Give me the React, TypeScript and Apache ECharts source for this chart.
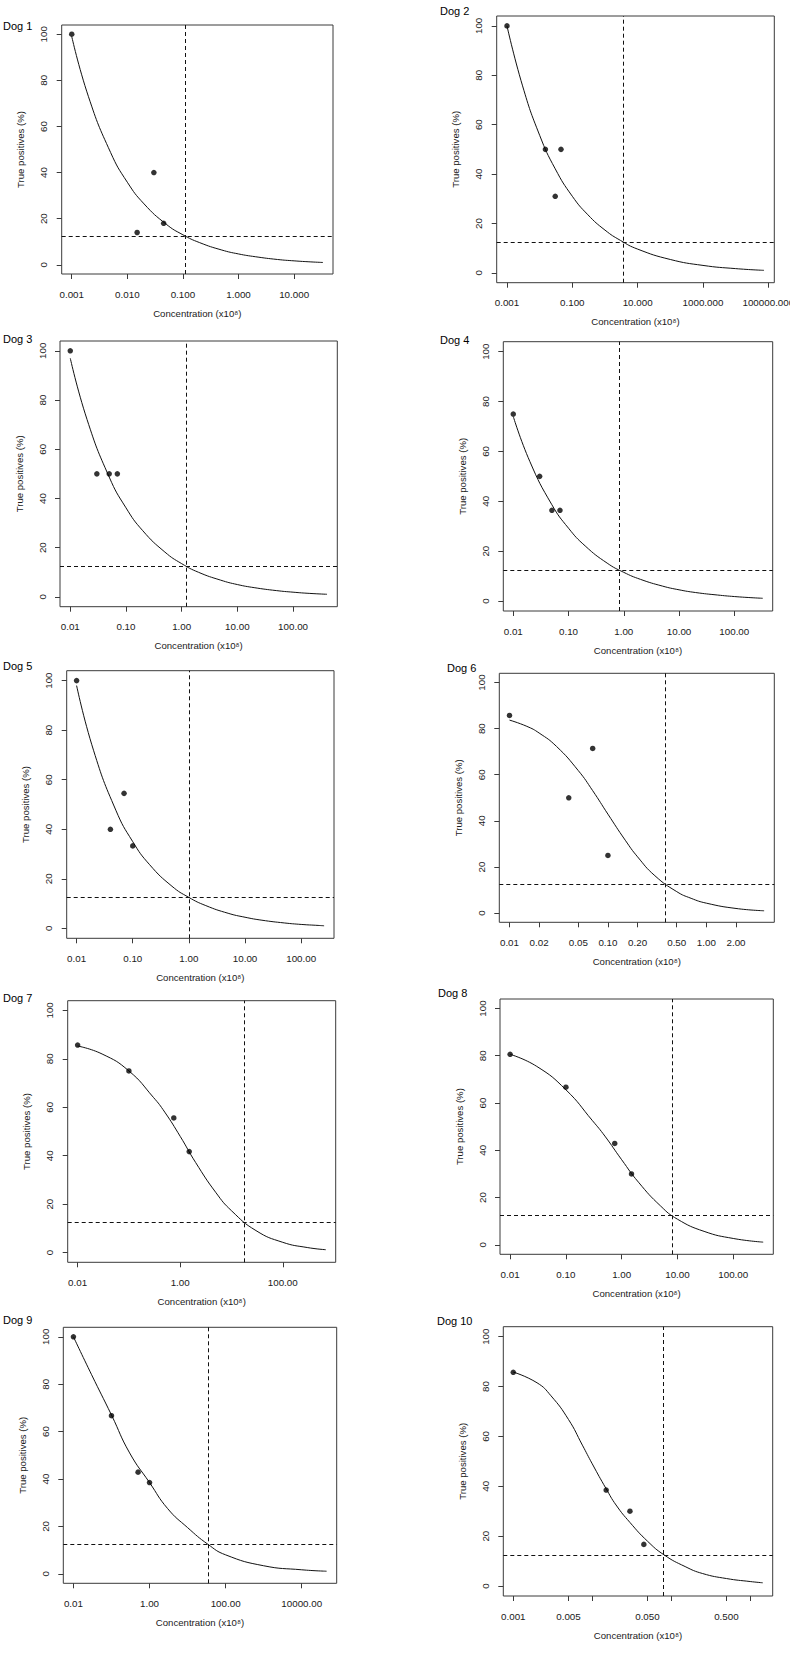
import React, { useEffect, useRef } from "react";
import * as echarts from "echarts";

// ---------- data ----------
const dogLabels = ["Dog 1", "Dog 2", "Dog 3", "Dog 4", "Dog 5", "Dog 6", "Dog 7", "Dog 8", "Dog 9", "Dog 10"];
const xAxisTitle = "Concentration (x10⁸)";
const yAxisTitle = "True positives (%)";
const yTicks = [0, 20, 40, 60, 80, 100];
const cutoffPercent = 12.5;
const cutoffConc = [0.109, 3.63, 1.2, 0.82, 1.0, 0.38, 17.7, 8.2, 34, 0.081];

const dog1PointX = [0.001, 0.015, 0.03, 0.045];
const dog1PointY = [100, 14, 40, 18];
const dog1CurveX = [0.001, 0.002, 0.005, 0.01, 0.02, 0.05, 0.1, 0.2, 0.5, 1, 2, 5, 10, 20, 33];
const dog1CurveY = [99, 72.9, 48.7, 35.8, 26.4, 17.6, 13.0, 9.6, 6.4, 4.7, 3.5, 2.3, 1.7, 1.25, 1.0];

const dog2PointX = [0.001, 0.015, 0.03, 0.045];
const dog2PointY = [100, 50, 31, 50];
const dog2CurveX = [0.001, 0.003, 0.01, 0.03, 0.1, 0.3, 1, 3, 10, 100, 1000, 10000, 73800];
const dog2CurveY = [100, 75.7, 55.7, 42.1, 31.0, 23.5, 17.3, 13.1, 9.6, 5.4, 3.0, 1.7, 1.0];

const dog3PointX = [0.01, 0.03, 0.05, 0.07];
const dog3PointY = [100, 50, 50, 50];
const dog3CurveX = [0.01, 0.02, 0.05, 0.1, 0.2, 0.5, 1, 2, 5, 10, 20, 50, 100, 200, 407];
const dog3CurveY = [97, 72.1, 48.7, 36.2, 26.9, 18.2, 13.5, 10.0, 6.8, 5.0, 3.75, 2.55, 1.9, 1.4, 1.05];

const dog4PointX = [0.01, 0.03, 0.05, 0.07];
const dog4PointY = [75, 50, 36.4, 36.4];
const dog4CurveX = [0.01, 0.02, 0.05, 0.1, 0.2, 0.5, 1, 2, 5, 10, 20, 50, 100, 200, 327];
const dog4CurveY = [74, 55.9, 38.6, 29.2, 22.1, 15.2, 11.5, 8.7, 6.0, 4.5, 3.4, 2.4, 1.8, 1.35, 1.1];

const dog5PointX = [0.01, 0.04, 0.07, 0.1];
const dog5PointY = [100, 40, 54.5, 33.3];
const dog5CurveX = [0.01, 0.02, 0.05, 0.1, 0.2, 0.5, 1, 2, 5, 10, 20, 50, 100, 200, 256];
const dog5CurveY = [98, 71.9, 47.7, 35.0, 25.7, 17.0, 12.5, 9.2, 6.1, 4.5, 3.3, 2.2, 1.6, 1.2, 1.05];

const dog6PointX = [0.01, 0.04, 0.07, 0.1];
const dog6PointY = [85.7, 50, 71.4, 25];
const dog6CurveX = [0.01, 0.015, 0.02, 0.03, 0.05, 0.07, 0.1, 0.15, 0.2, 0.3, 0.5, 0.7, 1, 2, 3.86];
const dog6CurveY = [83.7, 81.0, 78.1, 72.3, 61.8, 53.1, 42.9, 31.6, 24.4, 16.2, 9.3, 6.4, 4.3, 2.0, 1.0];

const dog7PointX = [0.01, 0.1, 0.75, 1.5];
const dog7PointY = [85.7, 75, 55.6, 41.7];
const dog7CurveX = [0.01, 0.03, 0.1, 0.3, 0.5, 1, 2, 5, 10, 30, 100, 300, 690];
const dog7CurveY = [85.3, 82.0, 75.0, 64.1, 58.0, 48.0, 37.2, 24.7, 17.3, 9.1, 4.25, 2.1, 1.2];

const dog8PointX = [0.01, 0.1, 0.75, 1.5];
const dog8PointY = [80.6, 66.7, 42.9, 30];
const dog8CurveX = [0.01, 0.03, 0.1, 0.3, 0.5, 1, 2, 5, 10, 30, 100, 344];
const dog8CurveY = [80.6, 75.5, 65.6, 52.5, 46, 36, 26.5, 16.4, 10.85, 5.7, 2.7, 1.15];

const dog9PointX = [0.01, 0.1, 0.5, 1];
const dog9PointY = [100, 66.7, 42.9, 38.5];
const dog9CurveX = [0.01, 0.03, 0.1, 0.3, 1, 3, 10, 34, 100, 1000, 10000, 45000];
const dog9CurveY = [100, 84, 67, 51, 38.5, 27.5, 19.5, 12.5, 8, 3.4, 1.7, 1.1];

const dog10PointX = [0.001, 0.015, 0.03, 0.045];
const dog10PointY = [85.7, 38.5, 30, 16.7];
const dog10CurveX = [0.001, 0.002, 0.003, 0.005, 0.0075, 0.01, 0.015, 0.02, 0.03, 0.05, 0.081, 0.15, 0.25, 0.5, 1, 1.44];
const dog10CurveY = [85.8, 81.5, 76.3, 66.8, 56.5, 49, 39, 32.5, 25.5, 18, 12.5, 7.8, 5.0, 3.0, 1.8, 1.3];

const ticksDecades3 = [0.001, 0.01, 0.1, 1, 10];
const ticksDog2 = [0.001, 0.1, 10, 1000, 100000];
const ticksDecades2 = [0.01, 0.1, 1, 10, 100];
const ticksDog6 = [0.01, 0.02, 0.05, 0.1, 0.2, 0.5, 1, 2];
const ticksDog7 = [0.01, 1, 100];
const ticksDog9 = [0.01, 1, 100, 10000];
const ticksDog10 = [0.001, 0.005, 0.01, 0.05, 0.1, 0.5, 1];
const labelsDog10 = [0.001, 0.005, 0.05, 0.5];

const panels = [
  { px: dog1PointX, py: dog1PointY, cx: dog1CurveX, cy: dog1CurveY, ticks: ticksDecades3, labels: ticksDecades3, dec: 3 },
  { px: dog2PointX, py: dog2PointY, cx: dog2CurveX, cy: dog2CurveY, ticks: ticksDog2, labels: ticksDog2, dec: 3 },
  { px: dog3PointX, py: dog3PointY, cx: dog3CurveX, cy: dog3CurveY, ticks: ticksDecades2, labels: ticksDecades2, dec: 2 },
  { px: dog4PointX, py: dog4PointY, cx: dog4CurveX, cy: dog4CurveY, ticks: ticksDecades2, labels: ticksDecades2, dec: 2 },
  { px: dog5PointX, py: dog5PointY, cx: dog5CurveX, cy: dog5CurveY, ticks: ticksDecades2, labels: ticksDecades2, dec: 2 },
  { px: dog6PointX, py: dog6PointY, cx: dog6CurveX, cy: dog6CurveY, ticks: ticksDog6, labels: ticksDog6, dec: 2 },
  { px: dog7PointX, py: dog7PointY, cx: dog7CurveX, cy: dog7CurveY, ticks: ticksDog7, labels: ticksDog7, dec: 2 },
  { px: dog8PointX, py: dog8PointY, cx: dog8CurveX, cy: dog8CurveY, ticks: ticksDecades2, labels: ticksDecades2, dec: 2 },
  { px: dog9PointX, py: dog9PointY, cx: dog9CurveX, cy: dog9CurveY, ticks: ticksDog9, labels: ticksDog9, dec: 2 },
  { px: dog10PointX, py: dog10PointY, cx: dog10CurveX, cy: dog10CurveY, ticks: ticksDog10, labels: labelsDog10, dec: 3 },
];

// ---------- layout ----------
const boxes = [
  [61.7, 25, 333, 274],
  [496.7, 16, 774.3, 282.7],
  [60, 341, 337.3, 606.7],
  [503.3, 341.7, 772.7, 611],
  [66.7, 670.7, 334, 938.3],
  [499.3, 673.3, 774.3, 922.3],
  [67.7, 1000.7, 335.7, 1262.3],
  [500, 999, 773.3, 1254.3],
  [63.3, 1327.3, 336.7, 1583.3],
  [503.3, 1326.7, 772.7, 1596],
];
const titlePos = [
  [3, 26], [440, 11], [3, 339], [440, 339.5], [3, 666],
  [447, 667.5], [3, 997.5], [438, 992.7], [3, 1320], [437, 1321],
];

const FONT = "'Liberation Sans', Arial, Helvetica, sans-serif";
const INK = "#1a1a1a";
const LINE = "#3a3a3a";

export default function App() {
  const ref = useRef<HTMLDivElement>(null);

  useEffect(() => {
    if (!ref.current) return;
    const chart = echarts.init(ref.current, undefined, { renderer: "svg" });

    const grid = boxes.map(([l, t, r, b]) => ({
      left: l,
      top: t,
      width: r - l,
      height: b - t,
      show: true,
      borderColor: LINE,
      borderWidth: 1,
      backgroundColor: "transparent",
      containLabel: false,
      outerBoundsMode: "none",
    }));

    const xAxis = panels.map((p, i) => {
      const lo = Math.log10(p.cx[0]);
      const hi = Math.log10(p.cx[p.cx.length - 1]);
      const pad = (hi - lo) * 0.04;
      return {
        type: "log",
        logBase: 10,
        gridIndex: i,
        min: Math.pow(10, lo - pad),
        max: Math.pow(10, hi + pad),
        name: xAxisTitle,
        nameLocation: "middle",
        nameGap: 34,
        nameTextStyle: { fontSize: 9.6, color: INK, fontFamily: FONT },
        axisLine: { show: false, onZero: false },
        axisTick: { show: true, inside: false, length: 5, customValues: p.ticks, lineStyle: { color: LINE, width: 1 } },
        axisLabel: {
          show: true,
          customValues: p.labels,
          margin: 15,
          fontSize: 9.8,
          color: INK,
          fontFamily: FONT,
          formatter: (v: number) => Number(v).toFixed(p.dec),
        },
        splitLine: { show: false },
        minorTick: { show: false },
        minorSplitLine: { show: false },
      };
    });

    const yAxis = panels.map((_, i) => ({
      type: "value",
      gridIndex: i,
      min: -4,
      max: 104,
      name: yAxisTitle,
      nameLocation: "middle",
      nameGap: 36,
      nameRotate: 90,
      nameTextStyle: { fontSize: 9.6, color: INK, fontFamily: FONT },
      axisLine: { show: false, onZero: false },
      axisTick: { show: true, inside: false, length: 5, customValues: yTicks, lineStyle: { color: LINE, width: 1 } },
      axisLabel: {
        show: true,
        customValues: yTicks,
        rotate: 90,
        margin: 13,
        fontSize: 9.8,
        color: INK,
        fontFamily: FONT,
      },
      splitLine: { show: false },
    }));

    const series: any[] = [];
    panels.forEach((p, i) => {
      series.push({
        type: "line",
        xAxisIndex: i,
        yAxisIndex: i,
        data: p.cx.map((x, k) => [x, p.cy[k]]),
        smooth: 0.5,
        symbol: "none",
        showSymbol: false,
        lineStyle: { color: "#111", width: 1 },
        silent: true,
        z: 3,
        markLine: {
          silent: true,
          symbol: ["none", "none"],
          label: { show: false },
          lineStyle: { color: "#111", width: 1, type: [4, 3] },
          data: [{ yAxis: cutoffPercent }, { xAxis: cutoffConc[i] }],
        },
      });
      series.push({
        type: "scatter",
        xAxisIndex: i,
        yAxisIndex: i,
        data: p.px.map((x, k) => [x, p.py[k]]),
        symbol: "circle",
        symbolSize: 5.5,
        itemStyle: { color: "#000" },
        silent: true,
        z: 4,
      });
    });

    const graphic = dogLabels.map((t, i) => ({
      type: "text",
      x: titlePos[i][0],
      y: titlePos[i][1],
      style: {
        text: t,
        fontSize: 11,
        fontWeight: "normal",
        fontFamily: FONT,
        fill: "#000",
        verticalAlign: "middle",
        align: "left",
      },
    }));

    chart.setOption({
      animation: false,
      backgroundColor: "#ffffff",
      grid,
      xAxis,
      yAxis,
      series,
      graphic,
    } as any);

    return () => {
      chart.dispose();
    };
  }, []);

  return (
    <div
      ref={ref}
      style={{ position: "absolute", left: 0, top: 0, width: 790, height: 1653, background: "#fff" }}
    />
  );
}
